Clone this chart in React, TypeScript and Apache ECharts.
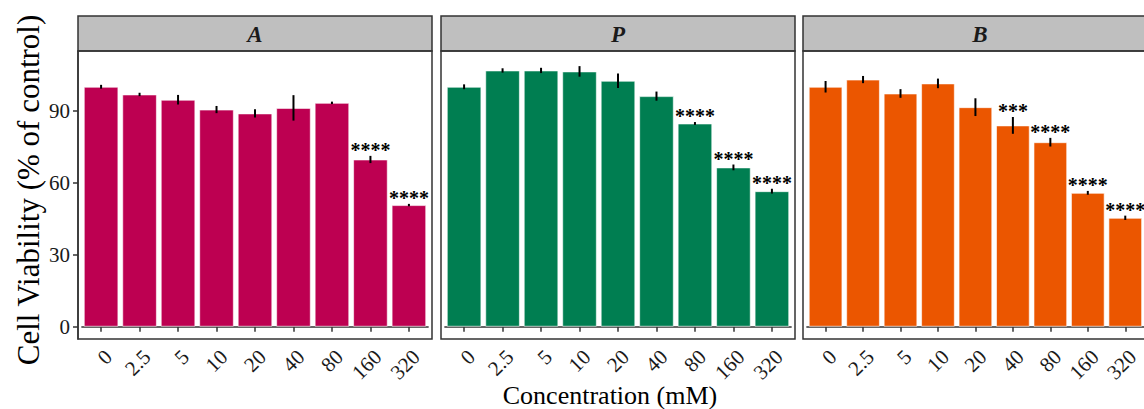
import React, { useEffect, useRef } from "react";
import * as echarts from "echarts";

// ---- data ----
const concentrations = ["0", "2.5", "5", "10", "20", "40", "80", "160", "320"];
const panelNames = ["A", "P", "B"];
const yTicks = [0, 30, 60, 90];

const viabilityA = [100, 96.8, 94.6, 90.5, 88.9, 91.2, 93.3, 69.7, 50.7];
const errorA = [0.8, 0.7, 2.0, 1.5, 1.7, 5.3, 0.5, 1.5, 0.5];
const starsA = ["", "", "", "", "", "", "", "****", "****"];

const viabilityP = [100, 106.8, 106.8, 106.4, 102.5, 96.1, 84.7, 66.4, 56.5];
const errorP = [1.0, 0.9, 1.1, 2.2, 3.0, 1.9, 0.6, 1.2, 1.0];
const starsP = ["", "", "", "", "", "", "****", "****", "****"];

const viabilityB = [100, 103.0, 97.2, 101.4, 91.5, 83.9, 76.9, 55.8, 45.4];
const errorB = [2.4, 1.5, 1.8, 2.0, 3.7, 3.5, 1.8, 0.8, 0.9];
const starsB = ["", "", "", "", "", "***", "****", "****", "****"];

const panelValues = [viabilityA, viabilityP, viabilityB];
const panelErrors = [errorA, errorP, errorB];
const panelStars = [starsA, starsP, starsB];
const panelColors = ["#BD0051", "#007E51", "#EB5600"];

// ---- layout ----
const FONT = "Liberation Serif";
const panelLefts = [78, 441, 803];
const panelWidth = 354;
const stripTop = 16;
const plotTop = 51;
const plotBottom = 339;
const unit = panelWidth / 9.2;
const inset = 0.1 * unit;

export default function App() {
  const ref = useRef<HTMLDivElement>(null);

  useEffect(() => {
    if (!ref.current) return;
    const chart = echarts.init(ref.current, null, { renderer: "svg" });

    const grids: any[] = [];
    const xAxes: any[] = [];
    const yAxes: any[] = [];
    const series: any[] = [];
    const graphics: any[] = [];

    panelNames.forEach((name, i) => {
      const left = panelLefts[i];
      grids.push({
        left: left + inset,
        width: 9 * unit,
        top: plotTop,
        height: plotBottom - plotTop,
        containLabel: false,
      });
      xAxes.push({
        type: "category",
        gridIndex: i,
        data: concentrations,
        axisLine: { show: true, lineStyle: { color: "#333", width: 1.5 } },
        axisTick: { show: true, alignWithLabel: true, interval: 0, length: 5, lineStyle: { color: "#333", width: 1.5 } },
        axisLabel: {
          show: true,
          interval: 0,
          rotate: 45,
          align: "right",
          verticalAlign: "top",
          margin: 7,
          color: "#1a1a1a",
          fontFamily: FONT,
          fontSize: 21,
        },
        splitLine: { show: false },
      });
      yAxes.push({
        type: "value",
        gridIndex: i,
        min: -5.1,
        max: 114.9,
        offset: inset,
        axisLine: { show: i === 0, lineStyle: { color: "#333", width: 1.5 } },
        axisTick: {
          show: i === 0,
          length: 5,
          customValues: yTicks,
          lineStyle: { color: "#333", width: 1.5 },
        },
        axisLabel: {
          show: i === 0,
          customValues: yTicks,
          margin: 8,
          color: "#1a1a1a",
          fontFamily: FONT,
          fontSize: 21,
        },
        splitLine: { show: false },
      });
      series.push({
        type: "bar",
        xAxisIndex: i,
        yAxisIndex: i,
        data: panelValues[i],
        barWidth: "90%",
        itemStyle: {
          color: panelColors[i],
          borderColor: "rgba(255,255,255,0.6)",
          borderWidth: 1,
        },
      });
      const stars = panelStars[i];
      series.push({
        type: "custom",
        xAxisIndex: i,
        yAxisIndex: i,
        data: panelValues[i].map((v, j) => [j, v, panelErrors[i][j]]),
        encode: { x: 0, y: 1 },
        z: 5,
        renderItem: (params: any, api: any) => {
          const x = api.value(0);
          const v = api.value(1);
          const e = api.value(2);
          const top = api.coord([x, v + e]);
          const bot = api.coord([x, v - e]);
          const children: any[] = [
            {
              type: "line",
              shape: { x1: top[0], y1: top[1], x2: bot[0], y2: bot[1] },
              style: { stroke: "#000", lineWidth: 2 },
            },
          ];
          const s = stars[params.dataIndex];
          if (s) {
            children.push({
              type: "text",
              x: top[0],
              y: top[1] + 4,
              style: {
                text: s,
                fontFamily: FONT,
                fontSize: 20,
                fontWeight: "bold",
                fill: "#000",
                align: "center",
                verticalAlign: "bottom",
              },
            });
          }
          return { type: "group", children };
        },
      });

      // strip
      graphics.push({
        type: "rect",
        shape: { x: left, y: stripTop, width: panelWidth, height: plotTop - stripTop },
        style: { fill: "#BFBFBF", stroke: "#333", lineWidth: 1.5 },
        z: 10,
      });
      graphics.push({
        type: "text",
        x: left + panelWidth / 2,
        y: (stripTop + plotTop) / 2 + 1,
        style: {
          text: name,
          fontFamily: FONT,
          fontSize: 23,
          fontWeight: "bold",
          fontStyle: "italic",
          fill: "#1a1a1a",
          align: "center",
          verticalAlign: "middle",
        },
        z: 11,
      });
      // panel border
      graphics.push({
        type: "rect",
        shape: { x: left, y: plotTop, width: panelWidth, height: plotBottom - plotTop },
        style: { fill: "none", stroke: "#333", lineWidth: 1.5 },
        z: 10,
      });
    });

    graphics.push({
      type: "text",
      x: 28,
      y: 190,
      rotation: Math.PI / 2,
      style: {
        text: "Cell Viability (% of control)",
        fontFamily: FONT,
        fontSize: 31,
        fill: "#000",
        align: "center",
        verticalAlign: "middle",
      },
    });
    graphics.push({
      type: "text",
      x: 610,
      y: 395,
      style: {
        text: "Concentration (mM)",
        fontFamily: FONT,
        fontSize: 26,
        fill: "#000",
        align: "center",
        verticalAlign: "middle",
      },
    });

    chart.setOption({
      animation: false,
      backgroundColor: "#fff",
      grid: grids,
      xAxis: xAxes,
      yAxis: yAxes,
      series,
      graphic: graphics,
    });

    return () => chart.dispose();
  }, []);

  return (
    <div style={{ position: "fixed", left: 0, top: 0, width: 1144, height: 409, overflow: "hidden", background: "#fff" }}>
      <div ref={ref} style={{ width: 1144, height: 409 }} />
    </div>
  );
}
